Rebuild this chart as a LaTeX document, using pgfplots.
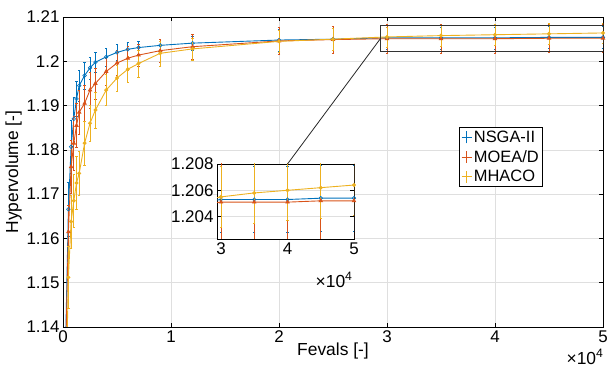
\documentclass[border=0pt]{standalone}
\usepackage{pgfplots}
\pgfplotsset{compat=1.18}
\usepackage{pgfplotstable}
\usepackage{fontspec}
\setmainfont{Liberation Sans}
\definecolor{mblue}{rgb}{0,0.447,0.741}
\definecolor{mred}{rgb}{0.85,0.325,0.098}
\definecolor{myel}{rgb}{0.929,0.694,0.125}
\pgfplotstableread{
x y e
100 1.120 0.004
500 1.1666 0.006
750 1.1807 0.006
1000 1.1870 0.005
1250 1.1915 0.004
1500 1.1945 0.0035
2000 1.1968 0.003
2500 1.1985 0.0025
3000 1.1998 0.0022
4000 1.2010 0.002
5000 1.2020 0.0018
6000 1.2027 0.0016
7000 1.2031 0.0015
9000 1.2036 0.0015
12000 1.2041 0.0015
20000 1.2048 0.0025
25000 1.2050 0.0025
30000 1.2053 0.0025
35000 1.2053 0.0025
40000 1.2053 0.0025
45000 1.2054 0.0025
50000 1.2054 0.0025
}\nsga
\pgfplotstableread{
x y e
100 1.118 0.005
500 1.1615 0.006
750 1.1762 0.006
1000 1.1815 0.006
1250 1.1855 0.005
1500 1.1885 0.005
2000 1.1905 0.004
2500 1.1935 0.004
3000 1.1950 0.0035
4000 1.1977 0.003
5000 1.1996 0.0028
6000 1.2007 0.0026
7000 1.2014 0.0025
9000 1.2024 0.0025
12000 1.2033 0.0028
20000 1.2046 0.003
25000 1.2049 0.003
30000 1.2051 0.0032
35000 1.2051 0.0032
40000 1.2051 0.0032
45000 1.2052 0.0032
50000 1.2052 0.0032
}\moead
\pgfplotstableread{
x y e
150 1.110 0.006
500 1.1512 0.007
750 1.1638 0.006
1000 1.1685 0.006
1250 1.1725 0.006
1500 1.1747 0.005
2000 1.1815 0.005
2500 1.1860 0.004
3000 1.1890 0.004
4000 1.1935 0.0035
5000 1.1962 0.003
6000 1.1982 0.003
7000 1.1995 0.003
9000 1.2018 0.0028
12000 1.2028 0.0025
20000 1.2045 0.0025
25000 1.2050 0.0024
30000 1.2055 0.0023
35000 1.2058 0.0023
40000 1.2060 0.0023
45000 1.2062 0.0023
50000 1.2064 0.0023
}\mhaco
\pgfplotsset{
  mystyle/.style={
    /pgf/number format/assume math mode=true,
    tick label style={font=\fontsize{17}{19}\selectfont},
    label style={font=\fontsize{17.5}{20}\selectfont},
    tick align=inside,
    tick style={black, line width=0.6pt},
    major tick length=4bp,
    axis line style={black, line width=0.8pt},
    grid=major,
    grid style={gray!25, line width=0.5pt},
    scaled x ticks=base 10:-4,
    xtick scale label code/.code={×10\textsuperscript{4}},
    scaled y ticks=false,
    y tick label style={/pgf/number format/.cd, fixed, precision=3},
  },
  ser/.style={#1, line width=0.9pt, mark size=1.8pt,
    error bars/y dir=both, error bars/y explicit,
    error bars/error bar style={#1, solid, line width=0.7pt},
    error bars/error mark options={#1, solid, rotate=90, mark size=1.2pt}},
}
\begin{document}
\begin{tikzpicture}
\begin{axis}[mystyle,
  name=main,
  scale only axis, width=540bp, height=310bp,
  xmin=0, xmax=50000, ymin=1.14, ymax=1.21,
  xtick={0,10000,20000,30000,40000,50000},
  ytick={1.14,1.15,1.16,1.17,1.18,1.19,1.2,1.21},
  yticklabels={1.14,1.15,1.16,1.17,1.18,1.19,1.2,1.21},
  xlabel={Fevals [-]}, ylabel={Hypervolume [-]},
  xlabel style={yshift=6bp},
  ylabel style={yshift=-2bp},
  every x tick scale label/.style={at={(rel axis cs:1,0)}, anchor=north east, yshift=-19bp, xshift=4bp, font=\fontsize{17.5}{19}\selectfont},
  clip=true,
  legend style={at={(rel axis cs:0.888,0.645)}, anchor=north east, font=\fontsize{16.5}{19}\selectfont, draw=black, line width=0.6pt, inner sep=1.5pt, row sep=2.5pt, cells={anchor=west}},
  legend image code/.code={\draw[#1, line width=0.8pt] (0bp,0bp) -- (10bp,0bp); \draw[#1,line width=0.8pt] (5bp,-6bp) -- (5bp,6bp);},
]
\addplot[ser=mblue, mark=o, mark options={solid, line width=0.6pt}] table[x=x, y=y, y error=e] {\nsga};
\addlegendentry{NSGA-II}
\addplot[ser=mred, mark=triangle*, mark options={solid}] table[x=x, y=y, y error=e] {\moead};
\addlegendentry{MOEA/D}
\addplot[ser=myel, mark=*, mark size=1.5pt, mark options={solid}] table[x=x, y=y, y error=e] {\mhaco};
\addlegendentry{MHACO}
\draw[black!80, line width=1pt] (axis cs:29400,1.2023) rectangle (axis cs:50000,1.208);
\coordinate (zl) at (axis cs:29400,1.20515);
\coordinate (sw) at (rel axis cs:0,0);
\end{axis}
\begin{axis}[mystyle,
  name=inset,
  at={(154bp,88bp)}, anchor=south west,
  scale only axis, width=137bp, height=75bp,
  axis background/.style={fill=white},
  xmin=29400, xmax=50000, ymin=1.2023, ymax=1.208,
  xtick={30000,40000,50000},
  ytick={1.204,1.206,1.208},
  yticklabels={1.204,1.206,1.208},
  every x tick scale label/.style={at={(rel axis cs:1,0)}, anchor=north east, yshift=-30bp, xshift=2bp, font=\fontsize{17.5}{19}\selectfont},
  clip=true,
]
\addplot[ser=mblue, mark=o, mark options={solid, line width=0.6pt}] table[x=x, y=y, y error=e] {\nsga};
\addplot[ser=mred, mark=triangle*, mark options={solid}] table[x=x, y=y, y error=e] {\moead};
\addplot[ser=myel, mark=*, mark size=1.5pt, mark options={solid}] table[x=x, y=y, y error=e] {\mhaco};
\coordinate (zt) at (axis cs:40000,1.208);
\end{axis}
\draw[black!85, line width=0.8pt] (zl) -- (zt);
\pgfresetboundingbox
\path ([shift={(-63bp,-41bp)}]sw) rectangle ++(607bp,368bp);
\end{tikzpicture}
\end{document}
